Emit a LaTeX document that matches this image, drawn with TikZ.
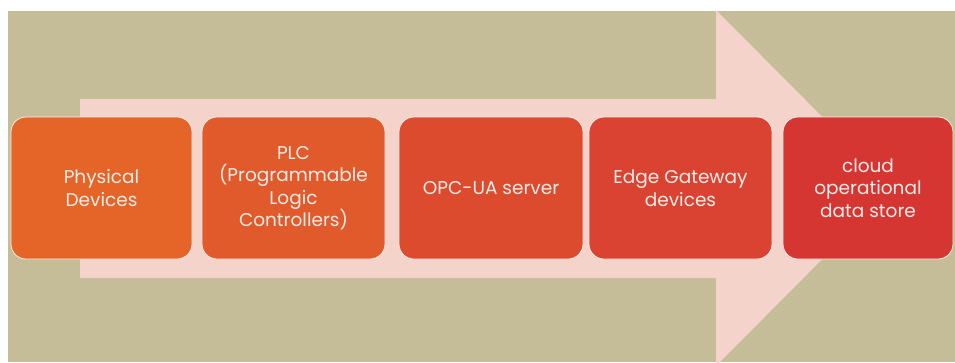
\documentclass[tikz,border=0pt]{standalone}
\usepackage{fontspec}
\setmainfont{Poppins}
\definecolor{khaki}{RGB}{196,189,151}
\definecolor{blush}{RGB}{244,211,203}
\definecolor{txt}{RGB}{250,236,232}
\definecolor{stepA}{RGB}{229,101,41}
\definecolor{stepB}{RGB}{224,90,44}
\definecolor{stepC}{RGB}{221,75,46}
\definecolor{stepD}{RGB}{218,67,49}
\definecolor{stepE}{RGB}{214,54,50}
\begin{document}
\begin{tikzpicture}[x=1pt,y=-1pt,
    stagebox/.style={draw=txt, line width=0.8pt, rounded corners=15pt,
      minimum height=142pt, align=center, text=txt, inner sep=2pt,
      font=\fontsize{18.5}{22.5}\selectfont}]
        \useasboundingbox (0,0) rectangle (955,362);
        \fill [white] (0,0) rectangle (955,362);
        \fill [khaki] (8,11) rectangle (955,362);

        % big arrow behind the boxes
        \begin{scope}
          \clip (8,11) rectangle (955,362);
          \fill [blush] (80,99) -- (716,99) -- (716,10) -- (893,188)
            -- (716,366) -- (716,278) -- (80,278) -- cycle;
        \end{scope}

        \node [stagebox, fill=stepA, minimum width=181pt] (phys) at (101.5,188) {Physical\\Devices};
        \node [stagebox, fill=stepB, minimum width=183pt] (plc) at (293.5,188) {PLC\\(Programmable\\Logic\\Controllers)};
        \node [stagebox, fill=stepC, minimum width=184pt] (opc) at (491,188) {OPC-UA server};
        \node [stagebox, fill=stepD, minimum width=183pt] (edge) at (680.5,188) {Edge Gateway\\devices};
        \node [stagebox, fill=stepE, minimum width=170pt] (cloud) at (868,188) {cloud\\operational\\data store};
      \end{tikzpicture}
\end{document}
